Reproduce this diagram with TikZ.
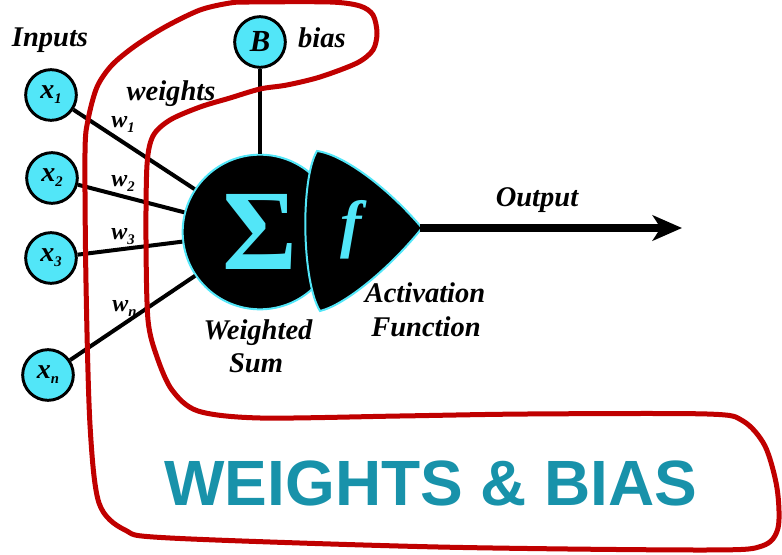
\documentclass[tikz,border=0pt]{standalone}
\usepackage{fontspec}
\setmainfont{Liberation Serif}
\newfontfamily\headsans{Liberation Sans}
\usetikzlibrary{arrows.meta}
\definecolor{cyanfill}{HTML}{52E6F8}
\definecolor{tealtext}{HTML}{1892AA}
\definecolor{markred}{HTML}{C00000}
\newcommand{\lblfont}{\fontsize{21.4}{24}\selectfont\bfseries\itshape}
\newcommand{\infont}{\fontsize{21}{23}\selectfont\bfseries\itshape}
\newcommand{\wfont}{\fontsize{18}{20}\selectfont\bfseries\itshape}
\newcommand{\mysub}[1]{\raisebox{-0.4ex}{\fontsize{11}{12}\selectfont #1}}
\begin{document}
\begin{tikzpicture}[x=0.75pt,y=-0.75pt,
  innode/.style={circle, draw=black, fill=cyanfill, line width=2.2pt, minimum size=38pt, inner sep=0pt, font=\infont},
  wire/.style={line width=3pt, draw=black},
  lab/.style={font=\lblfont, inner sep=0pt},
  wlab/.style={font=\wfont, inner sep=0pt},
  cyanedge/.style={fill=black, draw=cyanfill, line width=1.5pt},
 ]
\useasboundingbox (0,0) rectangle (782,555);

% summation node
\node[circle, cyanedge, minimum size=116pt, inner sep=0pt, text=cyanfill,
      font=\fontsize{86}{86}\selectfont\bfseries] (sum) at (260,232) {Σ};

% inputs
\node[innode] (x1) at (51,95) {x\mysub{1}};
\node[innode] (x2) at (52,178) {x\mysub{2}};
\node[innode] (x3) at (51,258) {x\mysub{3}};
\node[innode] (xn) at (48,375) {x\mysub{n}};
\node[innode, font=\fontsize{23}{25}\selectfont\bfseries\itshape] (B) at (260,42) {B};

\draw[wire] (x1) -- (sum);
\draw[wire] (x2) -- (sum);
\draw[wire] (x3) -- (sum);
\draw[wire] (xn) -- (sum);
\draw[wire] (B) -- (sum);

% activation shape
\draw[cyanedge] (317,151) .. controls (345,155) and (390,190) .. (422,228)
  .. controls (390,268) and (345,305) .. (320,311)
  .. controls (302,282) and (300,180) .. (317,151) -- cycle;
\node[inner sep=0pt, text=cyanfill, font=\fontsize{48}{50}\selectfont\bfseries\itshape] (fn) at (351,230) {f};

% output arrow
\coordinate (tip) at (420,228);
\coordinate (outend) at (682,228);
\draw[line width=6pt, -{Stealth[length=22pt, width=19pt, inset=6pt]}] (tip) -- (outend);

% labels
\node[lab, anchor=base] (inputs) at (50,47) {Inputs};
\node[lab, anchor=base] (weights) at (171,101) {weights};
\node[lab, anchor=base] (bias) at (322,48) {bias};
\node[lab, anchor=base] (output) at (537,207) {Output};
\node[lab, anchor=base] (ws1) at (258,340) {Weighted};
\node[lab, anchor=base] (ws2) at (256,373) {Sum};
\node[lab, anchor=base] (af1) at (425,303) {Activation};
\node[lab, anchor=base] (af2) at (426,337) {Function};

\node[wlab, anchor=base west] (w1) at (111,128) {w\mysub{1}};
\node[wlab, anchor=base west] (w2) at (111,187) {w\mysub{2}};
\node[wlab, anchor=base west] (w3) at (111,240) {w\mysub{3}};
\node[wlab, anchor=base west] (wn) at (112,312) {w\mysub{n}};

\node[anchor=base, inner sep=0pt, text=tealtext, font=\headsans\fontsize{48}{50}\selectfont\bfseries] (title) at (431,506) {WEIGHTS \& BIAS};

% red hand-drawn outline
\draw[markred, line width=3.75pt, line join=round] plot[smooth cycle, tension=0.5] coordinates {
 (250,2) (330,2) (360,6) (373,15) (377,33) (373,50) (357,63) (320,77) (287,85)
 (260,89) (230,98) (200,107) (170,120) (153,136) (147,165) (146,240) (148,320)
 (157,357) (172,390) (198,411) (260,418) (400,416) (528,414) (707,414) (743,421)
 (765,446) (777,488) (778,528) (762,546) (707,550) (438,547) (170,538) (125,530)
 (99,503) (90,425) (86,283) (85,153) (88,120) (97,87) (112,65) (135,46) (165,27)
 (200,10) (230,3)};
\end{tikzpicture}
\end{document}
